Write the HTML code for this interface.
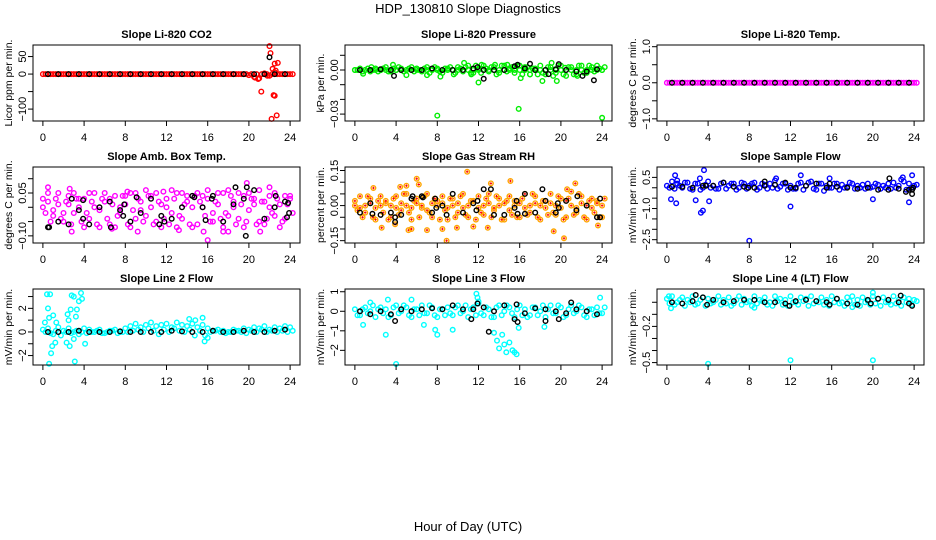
<!DOCTYPE html>
<html><head><meta charset="utf-8"><style>
body{margin:0;background:#fff}
svg{display:block;font-family:"Liberation Sans",sans-serif}
</style></head><body>
<svg id="chart" width="936" height="540" viewBox="0 0 936 540">
<rect width="936" height="540" fill="#fff"/>
<text x="468" y="13" font-size="13" text-anchor="middle">HDP_130810  Slope Diagnostics</text>
<text x="468" y="531" font-size="13" text-anchor="middle">Hour of Day (UTC)</text>
</svg>
<script>
const H=[0,0.5,1,1.5,2,2.5,3,3.5,4,4.5,5,5.5,6,6.5,7,7.5,8,8.5,9,9.5,10,10.5,11,11.5,12,12.5,13,13.5,14,14.5,15,15.5,16,16.5,17,17.5,18,18.5,19,19.5,20,20.5,21,21.5,22,22.5,23,23.5,24];
const BH=[0.5,1.5,2.5,3.5,4.5,5.5,6.5,7.5,8.5,9.5,10.5,11.5,12.5,13.5,14.5,15.5,16.5,17.5,18.5,19.5,20.5,21.5,22.5,23.5];
const xTicks=[0,4,8,12,16,20,24];
const zeros49=[0,0,0,0,0,0,0,0,0,0,0,0,0,0,0,0,0,0,0,0,0,0,0,0,0,0,0,0,0,0,0,0,0,0,0,0,0,0,0,0,0,0,0,0,0,0,0,0,0];
const zeros24=[0,0,0,0,0,0,0,0,0,0,0,0,0,0,0,0,0,0,0,0,0,0,0,0];

const co2Ticks=[-100,-50,0,50];
const co2Labels=["-100","","0","50"];
const co2A=[0,0,0,0,0,0,0,0,0,0,0,0,0,0,0,0,0,0,0,0,0,0,0,0,0,0,0,0,0,0,0,0,0,0,0,0,0,0,0,0,-3,-8,-12,2,-5,5,0,0,0];
const co2OutX=[20.6,20.9,21.2,22.0,22.1,22.2,22.3,22.4,22.5,22.6,22.7,22.8,22.5,21.8];
const co2OutY=[-10,-14,-50,80,60,-128,15,-60,30,10,-118,32,-62,-5];
const co2BOutX=[22.0];
const co2BOutY=[48];

const presTicks=[-0.03,-0.02,-0.01,0,0.01];
const presLabels=["-0.03","","","0.00",""];
const presA=[0,0.001,0,-0.001,0.001,0,0.002,-0.001,0,0.001,0,0.002,0.001,-0.001,0.002,0,0.001,-0.002,0.001,0,0.002,-0.001,0.003,-0.002,0.001,0.003,-0.001,0.002,-0.002,0.003,0.001,-0.002,0.003,0.002,-0.003,0.001,0.003,-0.003,0.002,-0.002,0.003,-0.004,0.002,-0.003,0.003,-0.002,0.002,0.003,0];
const presB=[0,-0.001,0.001,0,-0.001,0.001,-0.001,0.001,0.002,-0.001,0.001,-0.001,0,0.001,-0.002,0.002,-0.001,0.001,0.002,-0.002,0.001,0.002,-0.002,0.003,-0.002,0.001,0.002,-0.003,0.003,-0.001,0.002,0.003,-0.003,0.002,0.001,-0.003,-0.002,0.002,-0.004,0.003,-0.003,0.002,-0.003,0.003,-0.002,0.003,-0.001,0.001,0.002];
const presOutX=[0.8,1.6,3.7,8.0,8.3,10.6,12.0,12.3,15.9,16.1,19.1,24.0,19.6,18.2,17.0,5.0,7.0,9.6,11.3,14.8,13.6,20.4,21.6];
const presOutY=[-0.0025,0.002,0.0035,-0.031,-0.0045,0.0048,-0.0085,0.0035,-0.0265,-0.0055,0.0048,-0.0325,-0.0075,-0.0075,-0.003,-0.0035,-0.0035,-0.003,-0.003,0.0035,0.0035,0.0015,-0.004];
const presBlack=[0,0,0.0005,0,0,0,0,0.001,0,0,0,0.001,0,0,0,0.0025,0.001,0,0,0.0005,0,-0.001,-0.001,0.0005];
const presBOutX=[3.8,12.5,15.8,17.0,19.8,23.2,11.9,18.8,22.1];
const presBOutY=[-0.004,-0.006,0.0035,0.0042,0.004,-0.007,0.002,-0.0028,-0.004];

const tempTicks=[-1,-0.5,0,0.5,1];
const tempLabels=["-1.0","","0.0","","1.0"];

const ambTicks=[-0.1,-0.05,0,0.05,0.1];
const ambLabels=["-0.10","","","0.05",""];
const ambA=[0.03,0.02,-0.03,0.01,-0.05,0.04,-0.02,0.0,0.03,-0.04,0.05,-0.01,0.02,-0.06,0.04,-0.02,0.01,0.05,-0.04,0.02,-0.03,0.04,-0.05,0.01,0.03,-0.02,0.05,-0.04,0.02,0.0,-0.06,0.04,0.03,-0.05,0.01,0.05,-0.03,0.02,-0.04,0.04,-0.01,0.03,-0.05,0.02,0.04,-0.03,0.01,-0.04,0.04];
const ambB=[-0.02,-0.05,0.03,-0.04,0.02,-0.06,0.03,-0.05,-0.02,0.02,-0.06,0.03,-0.04,0.01,-0.03,0.04,-0.06,-0.01,0.03,-0.05,0.04,-0.06,0.02,-0.04,-0.06,0.03,-0.03,0.01,-0.06,0.04,0.02,-0.03,-0.05,0.02,-0.04,-0.02,0.04,-0.06,0.01,-0.05,0.03,-0.06,0.02,-0.04,-0.02,0.03,-0.05,0.01,-0.02];
const ambC=[0.0,0.05,-0.01,0.05,-0.02,0.01,0.05,0.03,-0.07,0.05,0.0,-0.07,0.05,0.03,-0.07,0.0,0.04,-0.07,0.05,-0.01,0.06,0.0,0.05,-0.07,0.0,0.06,-0.07,0.05,0.04,-0.07,0.05,0.0,0.06,-0.02,0.05,-0.07,0.06,0.0,0.05,-0.07,0.05,0.01,0.06,-0.06,0.0,0.05,-0.07,0.04,0.03];
const ambOutX=[0.5,2.6,2.8,8.2,11.7,15.6,16.0,19.8,21.1,22.0,17.5,18.0,13.2,9.2,6.7];
const ambOutY=[0.07,0.065,-0.085,0.055,0.055,-0.085,-0.115,0.085,-0.085,0.07,-0.085,-0.085,-0.08,-0.085,-0.075];
const ambBlack=[-0.07,-0.05,-0.06,-0.01,-0.06,0.0,0.02,-0.01,-0.05,-0.02,0.03,-0.03,-0.04,0.0,0.04,0.0,0.04,-0.05,0.01,0.03,0.06,-0.04,0.0,0.02];
const ambBOutX=[0.6,2.8,3.9,3.9,6.6,7.9,7.8,9.1,11.3,11.8,14.7,15.8,16.4,18.7,19.7,19.8,22.6,23.8,23.7,23.9];
const ambBOutY=[-0.07,0.03,0.025,-0.04,-0.07,0.01,-0.03,0.035,-0.06,-0.05,0.035,-0.045,0.03,0.07,-0.1,0.07,0.04,0.015,-0.035,-0.02];

const rhTicks=[-0.15,-0.1,-0.05,0,0.05,0.1,0.15];
const rhLabels=["-0.15","","","0.00","","","0.15"];
const rhA=[0.02,0.04,-0.03,0.03,-0.06,0.04,0.01,-0.05,0.04,-0.02,0.05,-0.06,0.03,-0.01,0.05,-0.05,0.02,0.04,-0.06,0.03,-0.03,0.05,-0.05,0.02,0.04,-0.04,0.05,-0.02,0.03,-0.06,0.04,0.02,-0.05,0.05,-0.03,0.04,-0.06,0.02,0.05,-0.04,0.03,-0.05,0.06,-0.03,0.04,-0.06,0.03,0.02,-0.05];
const rhB=[-0.02,-0.05,0.04,-0.05,0.02,-0.03,-0.06,0.03,-0.04,0.05,-0.03,0.02,-0.05,0.04,-0.03,0.03,-0.06,-0.02,0.03,-0.05,0.04,-0.04,0.02,-0.06,-0.03,0.03,-0.05,0.04,-0.06,0.02,-0.04,-0.05,0.03,-0.04,0.05,-0.05,0.02,-0.04,-0.03,0.04,-0.06,0.03,-0.04,0.05,-0.05,0.02,-0.03,-0.05,0.03];
const rhC=[0.0,-0.01,0.0,0.01,-0.01,0.0,0.02,0.0,-0.01,0.01,0.0,-0.01,0.01,0.0,-0.02,0.01,0.0,0.01,-0.01,0.0,0.01,-0.01,0.0,0.02,-0.01,0.0,0.01,-0.01,0.0,0.01,-0.02,0.0,0.01,-0.01,0.0,0.01,0.0,-0.01,0.01,0.0,-0.01,0.02,0.0,-0.01,0.01,0.0,-0.01,0.01,0.0];
const rhOutX=[1.8,2.6,4.4,5.0,5.2,5.5,6.0,7.0,8.5,8.9,9.9,10.9,11.5,12.9,13.2,15.1,19.3,20.3,21.4,23.6,3.9,6.2,20.6];
const rhOutY=[0.075,-0.095,0.08,0.085,-0.105,-0.1,0.115,-0.105,-0.1,-0.15,-0.095,0.145,-0.09,-0.095,0.095,0.105,-0.11,-0.14,0.095,-0.085,-0.08,0.09,0.07];
const rhBlack=[-0.03,0.01,-0.04,-0.03,-0.04,0.03,0.04,-0.03,0.0,0.05,-0.03,0.01,0.07,-0.04,-0.04,-0.01,0.05,-0.03,0.02,-0.03,0.02,-0.02,0.0,-0.05];
const rhBOutX=[1.7,3.9,3.9,5.6,6.6,7.8,7.9,8.9,11.9,11.8,13.2,15.7,15.8,16.5,18.2,19.7,19.8,21.6,23.8,23.8];
const rhBOutY=[-0.035,-0.05,-0.07,0.04,0.035,0.03,-0.01,-0.04,0.02,-0.02,0.07,0.02,-0.035,-0.035,0.07,0.01,-0.01,0.04,0.03,-0.05];

const sfTicks=[-2.5,-2,-1.5,-1,-0.5,0,0.5];
const sfLabels=["-2.5","","","-1.0","","","0.5"];
const sfA=[0.1,0.3,0.2,0.0,0.25,-0.1,0.2,0.0,0.3,0.1,-0.05,0.25,0.1,0.2,0.0,0.2,0.1,0.25,0.0,0.15,0.2,0.35,0.05,0.2,0.1,-0.05,0.25,0.1,0.3,-0.1,0.2,0.1,0.0,0.2,0.15,0.05,0.2,0.1,0.15,0.2,0.05,0.15,0.1,0.2,0.25,0.1,0.3,0.2,0.1];
const sfB=[0.0,-0.05,0.1,0.25,-0.05,0.2,-0.1,0.15,0.0,-0.05,0.2,-0.05,0.2,-0.1,0.25,-0.05,0.2,-0.1,0.2,-0.05,0.0,-0.05,0.2,-0.1,-0.05,0.2,-0.1,0.25,-0.05,0.2,-0.15,0.0,0.2,-0.1,0.0,0.25,-0.05,0.0,-0.05,0.0,0.2,-0.05,0.0,-0.05,0.0,0.4,-0.1,0.0,0.15];
const sfOutX=[0.8,3.6,0.4,0.9,2.8,3.3,3.5,4.1,8.0,12.0,13.0,20.0,23.5,23.8,1.0,3.2,10.6,15.8,22.9];
const sfOutY=[0.6,0.85,-0.55,-0.75,-0.6,-1.2,-1.1,-0.65,-2.55,-0.9,0.6,-0.55,-0.7,0.6,0.35,0.45,0.45,0.45,0.5];
const sfBlack=[0.05,0.05,0.0,0.1,0.1,0.25,0.05,0.05,0.0,0.1,0.15,0.25,0.0,0.1,0.2,0.0,0.05,0.0,-0.05,0.0,-0.1,-0.1,-0.05,-0.1];
const sfBOutX=[3.8,7.9,9.5,12.0,15.8,21.6,23.2,23.8,23.8,23.9];
const sfBOutY=[0.1,0.0,0.3,0.0,0.2,0.45,-0.2,-0.1,-0.3,0.0];

const l2Ticks=[-2,-1,0,1,2,3];
const l2Labels=["-2","","0","","2",""];
const l2A=[0.2,0.3,-0.2,0.4,0.1,0.3,0.0,-0.2,0.3,0.2,0.0,0.2,-0.1,0.1,0.2,0.0,0.3,0.5,0.7,0.4,0.6,0.8,0.5,0.6,0.7,0.4,0.8,0.6,0.5,0.7,0.4,0.6,0.3,0.1,0.2,0.1,0.0,0.2,0.1,0.3,0.2,0.4,0.3,0.5,0.2,0.4,0.3,0.5,0.4];
const l2B=[0.0,-0.1,0.1,-0.3,0.0,-0.1,0.1,0.0,-0.1,0.0,0.1,-0.1,0.0,0.1,-0.1,0.0,0.0,0.1,0.2,0.0,0.3,0.1,-0.2,0.2,0.0,0.3,0.1,0.0,0.2,-0.3,0.1,-0.3,0.0,0.1,0.0,-0.1,0.0,0.1,0.0,-0.1,0.1,0.0,0.2,0.0,0.1,0.0,0.1,0.0,0.1];
const l2OutX=[0.2,0.4,0.7,0.5,0.6,0.6,0.8,0.9,1.0,1.2,1.3,2.3,2.4,2.5,2.6,2.7,2.8,3.0,3.1,3.2,3.3,3.5,3.7,3.8,4.1,3.0,15.5,15.7,16.0,14.2,14.8];
const l2OutY=[0.8,3.2,3.2,2.0,1.2,-2.7,-1.8,-1.2,1.4,-0.9,0.8,-0.9,1.5,1.0,-1.2,1.9,3.1,3.0,-2.5,1.3,1.9,2.6,3.3,2.8,-1.0,-0.6,1.2,-0.8,-0.5,1.1,1.0];
const l2Black=[0.0,0.0,0.0,0.1,0.0,0.0,0.0,0.05,0.0,0.0,0.0,0.0,0.1,0.05,0.0,0.0,0.1,0.0,0.0,0.1,0.0,0.0,0.1,0.2];

const l3Ticks=[-2,-1,0,1];
const l3Labels=["-2","-1","0","1"];
const l3A=[0.1,-0.2,0.2,0.0,-0.3,0.2,0.1,-0.2,0.3,0.0,0.2,-0.3,0.1,0.3,-0.1,0.2,-0.3,0.1,0.2,-0.2,0.3,0.0,-0.3,0.2,0.4,-0.2,0.1,-0.3,0.3,0.0,0.2,-0.3,0.3,0.1,-0.2,0.2,0.0,-0.3,0.3,-0.1,0.2,-0.2,0.3,0.0,0.2,-0.3,0.1,0.2,-0.1];
const l3B=[-0.2,0.1,-0.1,0.3,0.1,-0.1,-0.3,0.2,-0.1,0.3,-0.2,0.1,-0.2,-0.1,0.3,-0.2,0.1,-0.2,-0.1,0.2,-0.1,0.3,0.1,-0.2,-0.1,0.2,-0.3,0.2,-0.2,0.3,-0.1,0.1,-0.2,-0.3,0.2,-0.2,0.3,0.1,-0.1,0.3,-0.3,0.1,-0.1,0.3,-0.2,0.1,-0.2,-0.1,0.2];
const l3OutX=[0.8,3.0,3.2,4.0,6.7,7.8,8.0,9.5,11.8,11.9,12.0,13.5,13.8,14.0,14.3,14.5,14.7,15.0,15.3,15.5,15.7,15.9,18.4,23.8,1.5,5.5];
const l3OutY=[-0.7,-1.2,0.6,-2.7,-0.7,-0.95,-1.2,-0.95,0.9,0.7,0.5,-1.1,-1.5,-1.9,-1.2,-1.7,-2.1,-1.6,-2.0,-2.1,-2.2,-0.85,-0.8,0.7,0.45,0.6];
const l3Black=[0.0,-0.15,0.0,-0.15,0.1,0.0,0.1,0.15,0.1,0.3,0.1,0.1,0.2,0.0,0.3,-0.4,-0.1,0.15,0.1,0.0,-0.1,0.1,0.0,-0.15];
const l3BOutX=[13.0,15.8,3.9,18.5,11.9,15.7,21.0,11.3,19.8];
const l3BOutY=[-1.05,-0.55,-0.5,-0.5,0.4,0.35,0.45,-0.4,-0.4];

const l4Ticks=[-0.5,-0.4,-0.3,-0.2,-0.1,0];
const l4Labels=["-0.5","","","-0.2","",""];
const l4A=[0.03,0.05,0.0,0.04,0.02,0.05,-0.01,0.04,0.03,0.0,0.05,0.02,0.04,-0.01,0.05,0.03,0.01,0.05,0.02,0.04,0.0,0.05,0.03,0.02,0.05,0.0,0.04,0.03,0.05,0.01,0.04,0.02,0.05,0.03,0.0,0.04,0.05,0.02,0.04,0.01,0.05,0.03,0.04,0.0,0.05,0.02,0.04,0.03,0.02];
const l4B=[-0.01,-0.02,0.02,-0.03,0.0,-0.02,0.02,-0.03,-0.01,0.02,-0.02,-0.01,-0.03,0.02,-0.02,0.0,-0.03,-0.01,0.01,-0.02,-0.03,0.01,-0.02,-0.03,0.0,-0.02,0.01,-0.03,-0.01,0.0,-0.02,-0.03,0.0,-0.01,-0.03,0.01,-0.02,-0.03,0.0,-0.02,-0.01,-0.03,0.0,-0.02,-0.01,-0.03,0.0,-0.02,0.01];
const l4OutX=[0.4,8.5,18.0,20.0,4.0,12.0,20.0,0.2];
const l4OutY=[-0.05,-0.045,-0.04,0.08,-0.51,-0.48,-0.48,0.05];
const l4Black=[0.0,-0.01,0.01,0.04,0.02,0.0,0.01,0.02,0.02,0.0,0.0,-0.01,0.01,0.02,0.01,0.0,0.03,-0.01,-0.02,0.02,0.03,0.02,0.0,-0.01];
const l4BOutX=[2.8,22.7,3.9,11.9,15.8,19.8,23.8];
const l4BOutY=[0.06,0.055,-0.02,-0.03,-0.02,-0.01,-0.03];

const panels=[
 {name:"co2",title:"Slope Li-820 CO2",ylab:"Licor ppm per min.",c:0,r:0,lo:-134,hi:83,ticks:co2Ticks,labels:co2Labels,color:"#ff0000",bands:[co2A,zeros49],outX:co2OutX,outY:co2OutY,black:zeros24,bOutX:co2BOutX,bOutY:co2BOutY},
 {name:"pressure",title:"Slope Li-820 Pressure",ylab:"kPa per min.",c:1,r:0,lo:-0.0347,hi:0.017,ticks:presTicks,labels:presLabels,color:"#00ee00",bands:[presA,presB,zeros49],outX:presOutX,outY:presOutY,black:presBlack,bOutX:presBOutX,bOutY:presBOutY},
 {name:"li820-temp",title:"Slope Li-820 Temp.",ylab:"degrees C per min.",c:2,r:0,lo:-1.06,hi:1.047,ticks:tempTicks,labels:tempLabels,color:"#ff00ff",bands:[zeros49,zeros49],outX:[],outY:[],black:zeros24,bOutX:[],bOutY:[]},
 {name:"amb-box-temp",title:"Slope Amb. Box Temp.",ylab:"degrees C per min.",c:0,r:1,lo:-0.125,hi:0.141,ticks:ambTicks,labels:ambLabels,color:"#ff00ff",bands:[ambA,ambB,ambC],outX:ambOutX,outY:ambOutY,black:ambBlack,bOutX:ambBOutX,bOutY:ambBOutY},
 {name:"gas-stream-rh",title:"Slope Gas Stream RH",ylab:"percent per min.",c:1,r:1,lo:-0.16,hi:0.165,ticks:rhTicks,labels:rhLabels,color:"#ffa500",cross:true,bands:[rhA,rhB,rhC],outX:rhOutX,outY:rhOutY,black:rhBlack,bOutX:rhBOutX,bOutY:rhBOutY},
 {name:"sample-flow",title:"Slope Sample Flow",ylab:"mV/min per min.",c:2,r:1,lo:-2.66,hi:1.0,ticks:sfTicks,labels:sfLabels,color:"#0000ff",bands:[sfA,sfB],outX:sfOutX,outY:sfOutY,black:sfBlack,bOutX:sfBOutX,bOutY:sfBOutY},
 {name:"line2-flow",title:"Slope Line 2 Flow",ylab:"mV/min per min.",c:0,r:2,lo:-2.8,hi:3.64,ticks:l2Ticks,labels:l2Labels,color:"#00ffff",bands:[l2A,l2B],outX:l2OutX,outY:l2OutY,black:l2Black,bOutX:[],bOutY:[]},
 {name:"line3-flow",title:"Slope Line 3 Flow",ylab:"mV/min per min.",c:1,r:2,lo:-2.75,hi:1.14,ticks:l3Ticks,labels:l3Labels,color:"#00ffff",bands:[l3A,l3B],outX:l3OutX,outY:l3OutY,black:l3Black,bOutX:l3BOutX,bOutY:l3BOutY},
 {name:"line4-flow",title:"Slope Line 4 (LT) Flow",ylab:"mV/min per min.",c:2,r:2,lo:-0.52,hi:0.11,ticks:l4Ticks,labels:l4Labels,color:"#00ffff",bands:[l4A,l4B],outX:l4OutX,outY:l4OutY,black:l4Black,bOutX:l4BOutX,bOutY:l4BOutY}
];

const svg=document.getElementById('chart');
const NS="http://www.w3.org/2000/svg";
function mk(tag,attrs,parent){const e=document.createElementNS(NS,tag);for(const k in attrs)e.setAttribute(k,attrs[k]);parent.appendChild(e);return e;}

panels.forEach(p=>{
  const L=33+312*p.c,R=300+312*p.c,T=45+122*p.r,B=121+122*p.r;
  const xs=h=>L+(h+0.96)/25.92*(R-L);
  const ys=v=>B-(v-p.lo)/(p.hi-p.lo)*(B-T);
  const g=mk('g',{},svg);
  
  
  const t=mk('text',{x:(L+R)/2,y:T-7,'font-size':11,'font-weight':'bold','text-anchor':'middle'},g);
  t.textContent=p.title;
  
  
  const yl=mk('text',{transform:`translate(${L-21},${(T+B)/2}) rotate(-90)`,'font-size':10.5,'text-anchor':'middle'},g);
  yl.textContent=p.ylab;
  
  
  const pts=mk('g',{fill:'none','stroke-width':1.4},g);
  
  
  function dot(h,v,col){
    const c=mk('circle',{cx:xs(h).toFixed(1),cy:ys(v).toFixed(1),r:2.3,stroke:col},pts);
    
    
    if(p.cross&&col!=='#000'){mk('path',{d:`M${(xs(h)-1.2).toFixed(1)} ${ys(v).toFixed(1)}h2.4M${xs(h).toFixed(1)} ${(ys(v)-1.2).toFixed(1)}v2.4`,stroke:'#ff0000','stroke-width':1},pts);}
  }
  p.bands.forEach((arr,k)=>arr.forEach((v,i)=>dot(H[i]+(k%2)*0.25,v,p.color)));
  p.outX.forEach((h,i)=>dot(h,p.outY[i],p.color));
  p.black.forEach((v,i)=>dot(BH[i],v,'#000'));
  p.bOutX.forEach((h,i)=>dot(h,p.bOutY[i],'#000'));
  const fr=mk('rect',{x:L,y:T,width:R-L,height:B-T,fill:'none',stroke:'#000','stroke-width':1},g);
  
  
  const xa=mk('g',{},g);
  
  
  mk('line',{x1:xs(xTicks[0]),x2:xs(xTicks[xTicks.length-1]),y1:B,y2:B,stroke:'#000'},xa);
  xTicks.forEach(h=>{
    mk('line',{x1:xs(h),x2:xs(h),y1:B,y2:B+5,stroke:'#000'},xa);
    const tl=mk('text',{x:xs(h),y:B+20,'font-size':11,'text-anchor':'middle'},xa);
    tl.textContent=String(h);
    
    
  });
  const ya=mk('g',{},g);
  
  
  p.ticks.forEach((v,i)=>{
    const y=ys(v);
    mk('line',{x1:L-5,x2:L,y1:y,y2:y,stroke:'#000'},ya);
    if(p.labels[i]){
      const tl=mk('text',{transform:`translate(${L-7},${y}) rotate(-90)`,'font-size':11,'text-anchor':'middle'},ya);
      tl.textContent=p.labels[i].replace('-','\u2212');
      
      
    }
  });
});
</script>
</body></html>
